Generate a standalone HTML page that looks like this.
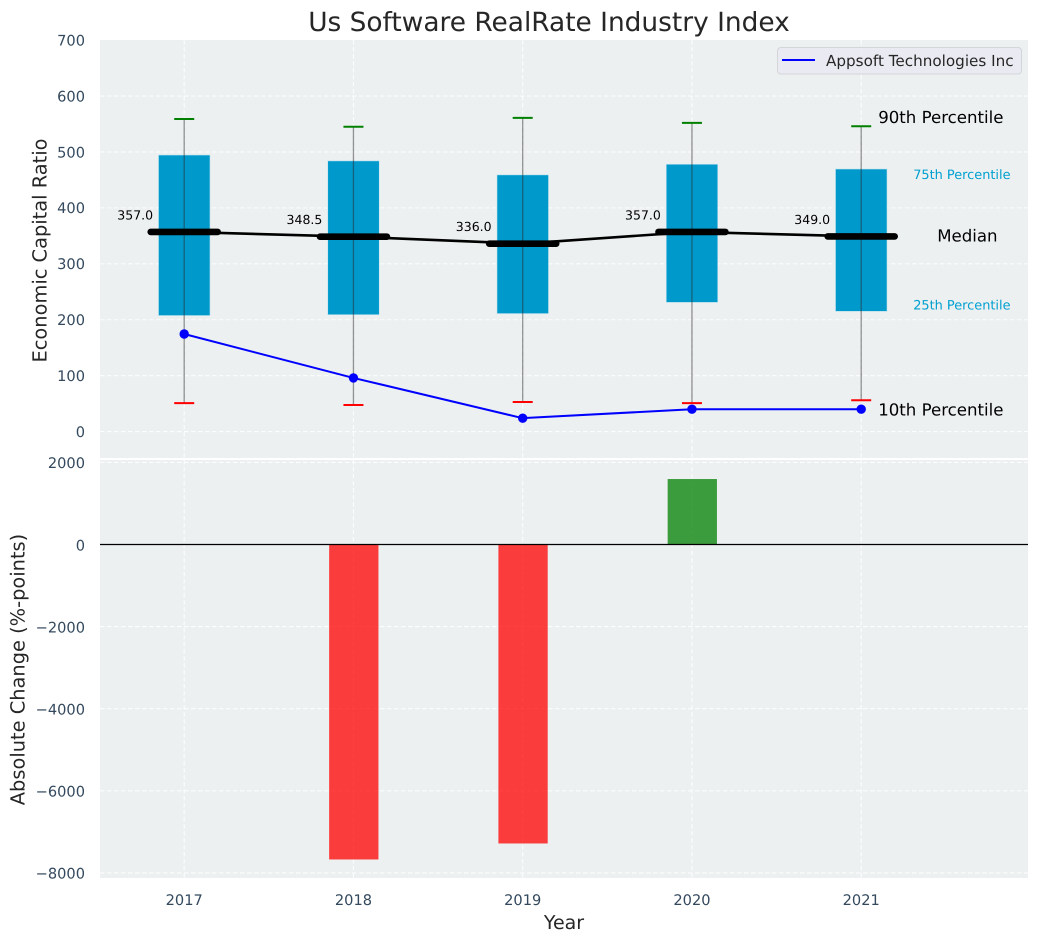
<!DOCTYPE html>
<html>
<head>
<meta charset="utf-8">
<title>Us Software RealRate Industry Index</title>
<style>
html,body{margin:0;padding:0;background:#fff;width:1039px;height:942px;overflow:hidden}
svg{display:block;font-family:"DejaVu Sans","Liberation Sans",sans-serif;text-rendering:geometricPrecision}
</style>
</head>
<body>
<svg id="chart" width="1039" height="942" viewBox="0 0 1039 942" xmlns="http://www.w3.org/2000/svg"></svg>
<script>
const years = [2017, 2018, 2019, 2020, 2021];
const p90 = [559, 545, 561, 552, 546];
const p75 = [494.5, 484, 459, 478, 469.5];
const median = [357, 348.5, 336, 357, 349];
const p25 = [207.5, 209, 211, 231, 215];
const p10 = [51, 47.5, 53, 51, 56];
const company = [174.5, 96, 24, 40, 40];
const changes = [0, -7673, -7283, 1595, 0];
const topTicks = [0, 100, 200, 300, 400, 500, 600, 700];
const bottomTicks = [2000, 0, -2000, -4000, -6000, -8000];

const svg = document.getElementById('chart');
const NS = 'http://www.w3.org/2000/svg';

function make(tag, attrs, parent, text) {
  const el = document.createElementNS(NS, tag);
  for (const k in attrs) el.setAttribute(k, attrs[k]);
  if (text !== undefined) el.textContent = text;
  (parent || svg).appendChild(el);
  return el;
}

const xS = v => 184.2 + (v - 2017) * 169.25;
const yT = v => 431.6 - v * 0.5593;
const yB = v => 544.5 - v * 0.04105;
const fmtTick = v => (v < 0 ? '\u2212' + Math.abs(v) : String(v));

const L = 100, R = 1028, T1 = 40, B1 = 458, T2 = 460, B2 = 878;
const tickColor = '#34495e', textColor = '#262626';

let el;
el = make('rect', {x: L, y: T1, width: R - L, height: B1 - T1, fill: '#ecf0f1'});


el = make('rect', {x: L, y: T2, width: R - L, height: B2 - T2, fill: '#ecf0f1'});



const gridStyle = {stroke: '#ffffff', 'stroke-width': 1.1, 'stroke-dasharray': '4.5 2.5', 'stroke-opacity': 0.85};

topTicks.forEach(t => {
  if (t < 700) {
    el = make('line', Object.assign({x1: L, x2: R, y1: yT(t), y2: yT(t)}, gridStyle));
    
    
  }
  el = make('text', {x: 85, y: yT(t) + 5.3, 'text-anchor': 'end', 'font-size': 14.6, fill: tickColor}, svg, fmtTick(t));
  
  
});
bottomTicks.forEach(t => {
  el = make('line', Object.assign({x1: L, x2: R, y1: yB(t), y2: yB(t)}, gridStyle));
  
  
  el = make('text', {x: 85, y: yB(t) + 5.8, 'text-anchor': 'end', 'font-size': 14.6, fill: tickColor}, svg, fmtTick(t));
  
  
});
years.forEach(y => {
  el = make('line', Object.assign({x1: xS(y), x2: xS(y), y1: T1, y2: B1}, gridStyle));
  
  
  el = make('line', Object.assign({x1: xS(y), x2: xS(y), y1: T2, y2: B2}, gridStyle));
  
  
  el = make('text', {x: xS(y), y: 905, 'text-anchor': 'middle', 'font-size': 14.6, fill: tickColor}, svg, String(y));
  
  
});

/* percentile boxes */
years.forEach((y, i) => {
  el = make('rect', {x: xS(y) - 25.7, y: yT(p75[i]), width: 51.5, height: yT(p25[i]) - yT(p75[i]), fill: '#0099cc', stroke: '#bfe3ef', 'stroke-width': 0.6});
  
  
});

/* median connecting line */
el = make('polyline', {points: years.map((y, i) => xS(y) + ',' + yT(median[i])).join(' '), fill: 'none', stroke: '#000', 'stroke-width': 2.6});



/* whiskers, caps */
years.forEach((y, i) => {
  el = make('line', {x1: xS(y), x2: xS(y), y1: yT(p90[i]), y2: yT(p10[i]), stroke: '#2b2b2b', 'stroke-opacity': 0.5, 'stroke-width': 1.3});
  
  
  el = make('line', {x1: xS(y) - 10, x2: xS(y) + 10, y1: yT(p90[i]), y2: yT(p90[i]), stroke: '#008000', 'stroke-width': 2});
  
  
  el = make('line', {x1: xS(y) - 10, x2: xS(y) + 10, y1: yT(p10[i]), y2: yT(p10[i]), stroke: '#ff0000', 'stroke-width': 2});
  
  
  el = make('line', {x1: xS(y) - 33.5, x2: xS(y) + 33.5, y1: yT(median[i]), y2: yT(median[i]), stroke: '#000', 'stroke-width': 6.6, 'stroke-linecap': 'round'});
  
  
  el = make('text', {x: xS(y) - 49, y: yT(median[i]) - 12.5, 'text-anchor': 'middle', 'font-size': 12.5, fill: '#000'}, svg, median[i].toFixed(1));
  
  
});

/* company series */
el = make('polyline', {points: years.map((y, i) => xS(y) + ',' + yT(company[i])).join(' '), fill: 'none', stroke: '#0000ff', 'stroke-width': 2});


years.forEach((y, i) => {
  el = make('circle', {cx: xS(y), cy: yT(company[i]), r: 4.7, fill: '#0000ff'});
  
  
});

/* percentile annotations */
const lastX = xS(years[years.length - 1]);
const lastI = years.length - 1;
el = make('text', {x: lastX + 17, y: yT(p90[lastI]) - 3, 'font-size': 16.6, fill: '#000'}, svg, '90th Percentile');


el = make('text', {x: lastX + 52, y: yT(p75[lastI]) + 10, 'font-size': 12.9, fill: '#00a0d0'}, svg, '75th Percentile');


el = make('text', {x: lastX + 76, y: yT(median[lastI]) + 5, 'font-size': 16.6, fill: '#000'}, svg, 'Median');


el = make('text', {x: lastX + 52, y: yT(p25[lastI]) - 2, 'font-size': 12.9, fill: '#00a0d0'}, svg, '25th Percentile');


el = make('text', {x: lastX + 17, y: yT(p10[lastI]) + 15, 'font-size': 16.6, fill: '#000'}, svg, '10th Percentile');



/* change bars */
years.forEach((y, i) => {
  const v = changes[i];
  if (v === 0) return;
  const top = Math.min(yB(v), yB(0));
  const h = Math.abs(yB(v) - yB(0));
  el = make('rect', {x: xS(y) - 24.3, y: top, width: 49.3, height: h, fill: v < 0 ? '#ff0000' : '#008000', 'fill-opacity': 0.75});
  
  
});
el = make('line', {x1: L, x2: R, y1: yB(0), y2: yB(0), stroke: '#000', 'stroke-width': 1.3});



/* legend */
el = make('g', {});


const legend = el;
el = make('rect', {x: 777.5, y: 47.5, width: 244, height: 26.5, rx: 3.5, fill: '#eaeaf2', 'fill-opacity': 0.9, stroke: '#d4d5d8', 'stroke-width': 1}, legend);


el = make('line', {x1: 782, x2: 815, y1: 60, y2: 60, stroke: '#0000ff', 'stroke-width': 2}, legend);


el = make('text', {x: 826, y: 66, 'font-size': 15.2, fill: textColor}, legend, 'Appsoft Technologies Inc');



/* titles */
el = make('text', {x: 549, y: 31, 'text-anchor': 'middle', 'font-size': 26.4, fill: textColor}, svg, 'Us Software RealRate Industry Index');


el = make('text', {x: 564, y: 929, 'text-anchor': 'middle', 'font-size': 19, fill: textColor}, svg, 'Year');


el = make('text', {transform: 'translate(46.5,250.5) rotate(-90)', 'text-anchor': 'middle', 'font-size': 19.4, fill: textColor}, svg, 'Economic Capital Ratio');


el = make('text', {transform: 'translate(24.5,669.5) rotate(-90)', 'text-anchor': 'middle', 'font-size': 19.4, fill: textColor}, svg, 'Absolute Change (%-points)');


</script>
</body>
</html>
